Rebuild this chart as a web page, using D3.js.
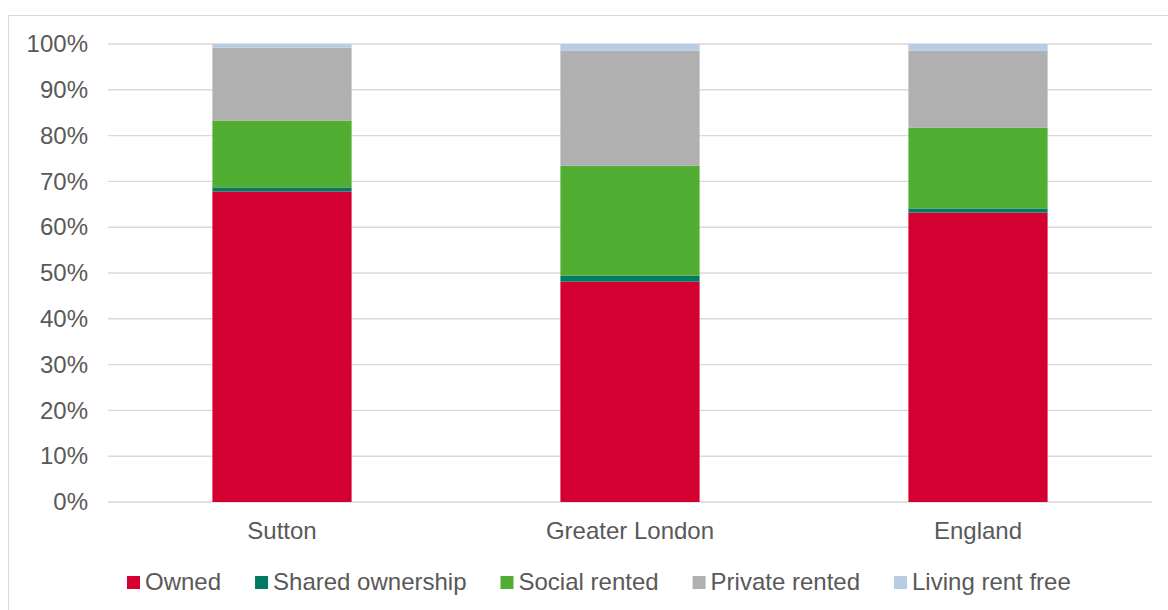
<!DOCTYPE html>
<html><head><meta charset="utf-8">
<script src="https://cdn.jsdelivr.net/npm/d3@7"></script>
<style>body{margin:0;background:#fff;} text{font-family:"Liberation Sans",Arial,sans-serif;fill:#595959;}</style>
</head><body>
<svg id="c" width="1168" height="610"></svg>
<script>
const categories = ["Sutton", "Greater London", "England"];
const seriesNames = ["Owned", "Shared ownership", "Social rented", "Private rented", "Living rent free"];
const owned = [67.8, 48.1, 63.2];
const shared = [0.9, 1.3, 0.9];
const social = [14.6, 24.0, 17.6];
const privateRented = [15.9, 25.1, 16.8];
const rentFree = [0.8, 1.5, 1.5];
const yTicks = [0,10,20,30,40,50,60,70,80,90,100];
const colors = ["#D50032", "#007A63", "#52AE32", "#B0B0B0", "#B8CCE4"];

const seriesValues = [owned, shared, social, privateRented, rentFree];
const rows = categories.map((c,i)=>{const o={cat:c}; seriesNames.forEach((s,j)=>o[s]=seriesValues[j][i]); return o;});
const stack = d3.stack().keys(seriesNames)(rows);

const svg = d3.select("#c");
const fs = 24;
svg.append("rect").attr("x",8.5).attr("y",15.5).attr("width",1200).attr("height",700)
  .attr("fill","none").attr("stroke","#D9D9D9").attr("stroke-width",1);

const x = d3.scaleBand().domain(categories).range([108,1152]).paddingInner(0.6).paddingOuter(0.3);
const y = d3.scaleLinear().domain([0,100]).range([502,44]);

const grid = svg.append("g");
grid.selectAll("line").data(yTicks).join("line")
  .attr("x1",108).attr("x2",1152).attr("y1",d=>y(d)).attr("y2",d=>y(d))
  .attr("stroke","#D9D9D9").attr("stroke-width",1.4);

const yAxis = svg.append("g").attr("transform","translate(108,0)")
  .call(d3.axisLeft(y).tickValues(yTicks).tickFormat(d=>d+"%").tickSize(0).tickPadding(20));
yAxis.select(".domain").remove();
yAxis.selectAll("text").style("font-size",fs+"px").attr("fill","#595959").attr("font-family","Liberation Sans, Arial, sans-serif");

svg.append("g").selectAll("g").data(stack).join("g").attr("fill",(d,i)=>colors[i])
  .selectAll("rect").data(d=>d).join("rect")
  .attr("x",d=>x(d.data.cat)).attr("width",x.bandwidth())
  .attr("y",d=>y(d[1])).attr("height",d=>y(d[0])-y(d[1]));

const xAxis = svg.append("g").attr("transform","translate(0,502)")
  .call(d3.axisBottom(x).tickSize(0).tickPadding(20));
xAxis.select(".domain").remove();
xAxis.selectAll("text").style("font-size",fs+"px").attr("fill","#595959").attr("font-family","Liberation Sans, Arial, sans-serif");

const leg = svg.append("g");
let lx = 127;
seriesNames.forEach((s,i)=>{
  leg.append("rect").attr("x",lx).attr("y",576).attr("width",13).attr("height",13).attr("fill",colors[i]);
  const t = leg.append("text").attr("x",lx+18).attr("y",590).style("font-size",fs+"px").text(s);
  lx += 18 + t.node().getComputedTextLength() + 34;
});
</script>
</body></html>
